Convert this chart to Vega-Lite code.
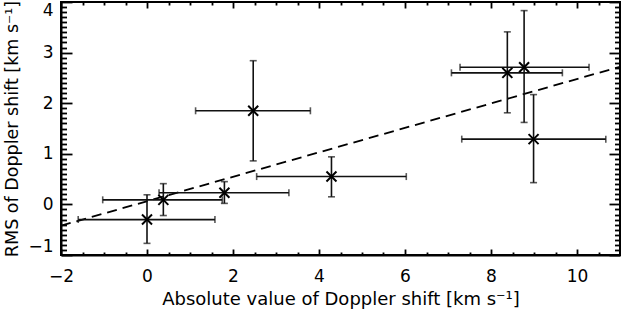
{
  "$schema": "https://vega.github.io/schema/vega-lite/v6.json",
  "width": 559,
  "height": 253,
  "autosize": "none",
  "padding": {"left": 61, "top": 2, "right": 2, "bottom": 54},
  "background": "white",
  "config": {
    "view": {"stroke": "#000", "strokeWidth": 2},
    "axis": {
      "domainColor": "#000", "domainWidth": 2, "tickColor": "#000", "tickWidth": 1.8,
      "labelFont": "DejaVu Sans", "labelFontSize": 17, "labelColor": "#000",
      "titleFont": "DejaVu Sans", "titleFontSize": 18, "titleFontWeight": "normal", "titleColor": "#000",
      "grid": false, "labelOverlap": false, "labelFlush": false
    }
  },
  "resolve": {"axis": {"x": "independent", "y": "independent"}},
  "datasets": {
    "pts": [
      {"x": 0.0, "y": -0.3, "xlo": -1.6, "xhi": 1.58, "ylo": -0.77, "yhi": 0.19},
      {"x": 0.38, "y": 0.09, "xlo": -1.03, "xhi": 1.75, "ylo": -0.22, "yhi": 0.41},
      {"x": 1.8, "y": 0.23, "xlo": 0.28, "xhi": 3.3, "ylo": 0.02, "yhi": 0.45},
      {"x": 2.47, "y": 1.85, "xlo": 1.13, "xhi": 3.8, "ylo": 0.86, "yhi": 2.84},
      {"x": 4.29, "y": 0.55, "xlo": 2.55, "xhi": 6.03, "ylo": 0.15, "yhi": 0.94},
      {"x": 8.38, "y": 2.6, "xlo": 7.08, "xhi": 9.66, "ylo": 1.81, "yhi": 3.41},
      {"x": 8.77, "y": 2.71, "xlo": 7.28, "xhi": 10.28, "ylo": 1.62, "yhi": 3.83},
      {"x": 8.99, "y": 1.29, "xlo": 7.32, "xhi": 10.67, "ylo": 0.43, "yhi": 2.17}
    ],
    "fit": [
      {"x": -2, "y": -0.42},
      {"x": 11, "y": 2.72}
    ]
  },
  "layer": [
    {
      "data": {"name": "fit"},
      "mark": {"type": "line", "color": "#000", "strokeWidth": 1.8, "strokeDash": [10, 6], "clip": true},
      "encoding": {
        "x": {"field": "x", "type": "quantitative",
          "scale": {"domain": [-2, 11], "nice": false, "zero": false},
          "axis": {"orient": "top", "offset": -253, "title": null, "labels": false, "domain": false,
            "values": [-2,0,2,4,6,8,10], "tickSize": 6}},
        "y": {"field": "y", "type": "quantitative",
          "scale": {"domain": [-1, 4], "nice": false, "zero": false},
          "axis": {"orient": "right", "offset": -559, "title": null, "labels": false, "domain": false,
            "values": [-1,0,1,2,3,4], "tickSize": 11}}
      }
    },
    {
      "data": {"name": "pts"},
      "mark": {"type": "rule", "color": "#111", "strokeWidth": 1.6},
      "encoding": {
        "x": {"field": "xlo", "type": "quantitative",
          "axis": {"orient": "bottom", "title": "Absolute value of Doppler shift [km s⁻¹]", "titlePadding": 6,
            "values": [-2,0,2,4,6,8,10], "format": "d", "ticks": false,
            "labelPadding": 13}},
        "x2": {"field": "xhi"},
        "y": {"field": "y", "type": "quantitative",
          "axis": {"orient": "left", "title": "RMS of Doppler shift [km s⁻¹]", "titlePadding": 6, "titleFontSize": 17.5,
            "values": [-1,0,1,2,3,4], "format": "d", "ticks": false, "labelFlush": true,
            "labelPadding": 8}}
      }
    },
    {
      "data": {"name": "pts"},
      "mark": {"type": "rule", "color": "#111", "strokeWidth": 1.6},
      "encoding": {
        "x": {"field": "x", "type": "quantitative",
          "axis": {"orient": "top", "offset": -253, "title": null, "labels": false, "domain": false,
            "values": [-1.5,-1,-0.5,0.5,1,1.5,2.5,3,3.5,4.5,5,5.5,6.5,7,7.5,8.5,9,9.5,10.5], "tickSize": 3}},
        "y": {"field": "ylo", "type": "quantitative",
          "axis": {"orient": "right", "offset": -559, "title": null, "labels": false, "domain": false,
            "values": [-0.9,-0.8,-0.7,-0.6,-0.5,-0.4,-0.3,-0.2,-0.1,0.1,0.2,0.3,0.4,0.5,0.6,0.7,0.8,0.9,1.1,1.2,1.3,1.4,1.5,1.6,1.7,1.8,1.9,2.1,2.2,2.3,2.4,2.5,2.6,2.7,2.8,2.9,3.1,3.2,3.3,3.4,3.5,3.6,3.7,3.8,3.9], "tickSize": 5.5}},
        "y2": {"field": "yhi"}
      }
    },
    {
      "data": {"name": "pts"},
      "transform": [{"fold": ["xlo", "xhi"], "as": ["k", "xc"]}],
      "mark": {"type": "tick", "orient": "vertical", "color": "#111", "size": 7, "thickness": 1.6},
      "encoding": {
        "x": {"field": "xc", "type": "quantitative",
          "axis": {"orient": "bottom", "offset": -253, "title": null, "labels": false, "domain": false,
            "values": [-2,0,2,4,6,8,10], "tickSize": 6}},
        "y": {"field": "y", "type": "quantitative",
          "axis": {"orient": "left", "offset": -559, "title": null, "labels": false, "domain": false,
            "values": [-1,0,1,2,3,4], "tickSize": 11}}
      }
    },
    {
      "data": {"name": "pts"},
      "transform": [{"fold": ["ylo", "yhi"], "as": ["k", "yc"]}],
      "mark": {"type": "tick", "orient": "horizontal", "color": "#111", "size": 7, "thickness": 1.6},
      "encoding": {
        "x": {"field": "x", "type": "quantitative",
          "axis": {"orient": "bottom", "offset": -253, "title": null, "labels": false, "domain": false,
            "values": [-1.5,-1,-0.5,0.5,1,1.5,2.5,3,3.5,4.5,5,5.5,6.5,7,7.5,8.5,9,9.5,10.5], "tickSize": 3}},
        "y": {"field": "yc", "type": "quantitative",
          "axis": {"orient": "left", "offset": -559, "title": null, "labels": false, "domain": false,
            "values": [-0.9,-0.8,-0.7,-0.6,-0.5,-0.4,-0.3,-0.2,-0.1,0.1,0.2,0.3,0.4,0.5,0.6,0.7,0.8,0.9,1.1,1.2,1.3,1.4,1.5,1.6,1.7,1.8,1.9,2.1,2.2,2.3,2.4,2.5,2.6,2.7,2.8,2.9,3.1,3.2,3.3,3.4,3.5,3.6,3.7,3.8,3.9], "tickSize": 5.5}}
      }
    },
    {
      "data": {"name": "pts"},
      "mark": {"type": "point", "shape": "M-1,-1L1,1M1,-1L-1,1", "size": 100, "filled": false, "stroke": "#000", "strokeWidth": 2, "opacity": 1},
      "encoding": {
        "x": {"field": "x", "type": "quantitative", "axis": null},
        "y": {"field": "y", "type": "quantitative", "axis": null}
      }
    }
  ]
}
